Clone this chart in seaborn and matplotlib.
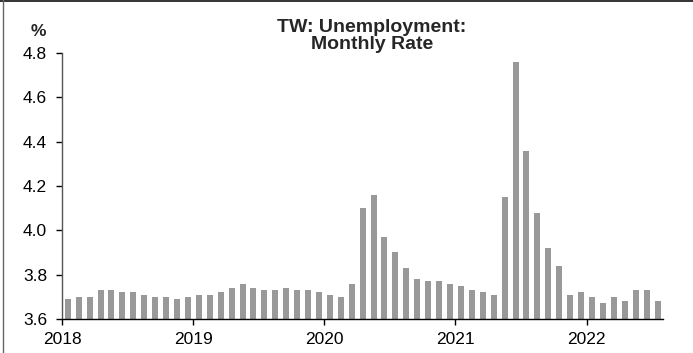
import numpy as np
import pandas as pd
import matplotlib
matplotlib.use("Agg")
import matplotlib.pyplot as plt
import seaborn as sns
from matplotlib.lines import Line2D

months = [f"{y}-{m:02d}" for y in range(2018, 2023) for m in range(1, 13)][:55]
rate_2018 = [3.69, 3.70, 3.70, 3.73, 3.73, 3.72, 3.72, 3.71, 3.70, 3.70, 3.69, 3.70]
rate_2019 = [3.71, 3.71, 3.72, 3.74, 3.76, 3.74, 3.73, 3.73, 3.74, 3.73, 3.73, 3.72]
rate_2020 = [3.71, 3.70, 3.76, 4.10, 4.16, 3.97, 3.90, 3.83, 3.78, 3.77, 3.77, 3.76]
rate_2021 = [3.75, 3.73, 3.72, 3.71, 4.15, 4.76, 4.36, 4.08, 3.92, 3.84, 3.71, 3.72]
rate_2022 = [3.70, 3.67, 3.70, 3.68, 3.73, 3.73, 3.68]
rates = rate_2018 + rate_2019 + rate_2020 + rate_2021 + rate_2022
year_labels = ["2018", "2019", "2020", "2021", "2022"]
y_ticks = [3.6, 3.8, 4.0, 4.2, 4.4, 4.6, 4.8]

df = pd.DataFrame({"idx": np.arange(len(rates)), "month": months, "rate": rates})

sns.set_theme(style="white")
plt.rcParams["font.family"] = ["Liberation Sans", "DejaVu Sans"]

fig = plt.figure(figsize=(6.93, 3.53), dpi=100)
ax = fig.add_axes([62.3 / 693, 1 - 319 / 353, (663 - 62.3) / 693, (319 - 53) / 353])

sns.barplot(data=df, x="idx", y="rate", native_scale=True, color="#999999",
            saturation=1, width=0.55, ax=ax, linewidth=0)

ax.set_xlim(-0.5, len(rates) - 0.5)
ax.set_ylim(3.6, 4.8)
ax.set_yticks(y_ticks)
ax.set_yticklabels([f"{v:.1f}" for v in y_ticks])
ax.set_xticks([12 * i - 0.5 for i in range(len(year_labels))])
ax.set_xticklabels(year_labels)
ax.set_xlabel("")
ax.set_ylabel("")

for s in ["top", "right"]:
    ax.spines[s].set_visible(False)
for s in ["left", "bottom"]:
    ax.spines[s].set_color("#000000")
    ax.spines[s].set_linewidth(1.0)
ax.spines["left"].set_color("#555555")

ax.tick_params(axis="both", which="both", direction="out", length=4, width=1,
               color="#000000", labelsize=12.5, labelcolor="#000000",
               left=True, bottom=True)
ax.tick_params(axis="y", pad=7)
ax.tick_params(axis="x", pad=5)

fig.text(372 / 693, 1 - 36 / 353, "TW: Unemployment:\nMonthly Rate", ha="center",
         va="center", fontsize=14, fontweight="bold", linespacing=0.95)
fig.text(38 / 693, 1 - 32 / 353, "%", ha="center", va="center", fontsize=12.5,
         fontweight="bold")

# partial figure frame
fig.add_artist(Line2D([0, 1], [1 - 0.5 / 353, 1 - 0.5 / 353], transform=fig.transFigure,
                      color="#111111", linewidth=1.2))
fig.add_artist(Line2D([2.7 / 693, 2.7 / 693], [0, 1], transform=fig.transFigure,
                      color="#666666", linewidth=1.0))

fig.savefig("out.png", dpi=100)
